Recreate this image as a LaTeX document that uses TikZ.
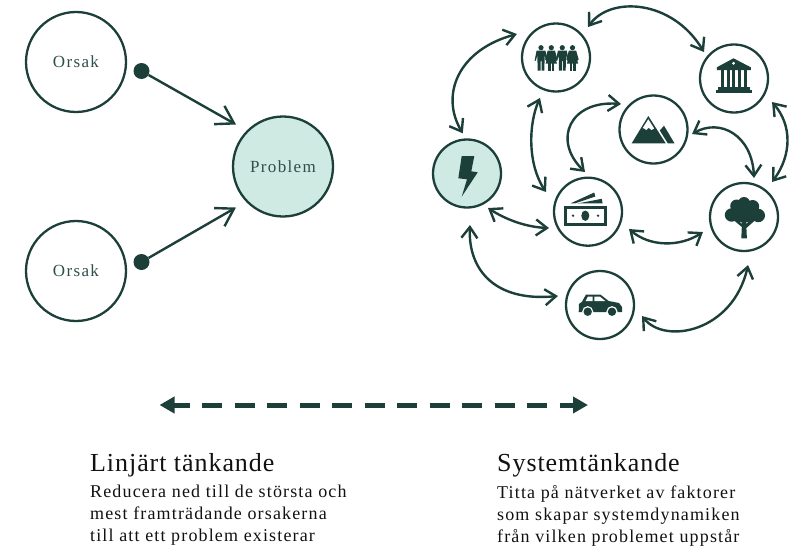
\documentclass[tikz,border=0pt]{standalone}
\usepackage{fontspec}
\setmainfont{Liberation Serif}
\newfontfamily\bodyfont[LetterSpace=6.4]{Liberation Serif}
\newfontfamily\headfont[LetterSpace=3.6]{Liberation Serif}
\newfontfamily\labelfont[LetterSpace=8]{Liberation Serif}
\usetikzlibrary{arrows.meta,calc}
\definecolor{ink}{HTML}{1C3F39}
\definecolor{mint}{HTML}{CFE9E3}
\definecolor{labelink}{HTML}{2F4F4A}
\definecolor{bodyink}{HTML}{111111}
\tikzset{
  bigcirc/.style={circle,draw=ink,line width=2.3pt,minimum size=100pt,inner sep=0pt,fill=white,text=labelink,font={\labelfont\fontsize{17}{20}\selectfont}},
  smallcirc/.style={circle,draw=ink,line width=2.3pt,minimum size=68pt,inner sep=0pt,fill=white},
  hot/.style={fill=mint},
  dotnode/.style={circle,fill=ink,minimum size=16pt,inner sep=0pt},
  link/.style={draw=ink,line width=2.4pt,{Straight Barb[length=11pt,width=16pt]}-{Straight Barb[length=11pt,width=16pt]}},
  bigarrow/.style={draw=ink,line width=2.4pt,-{Straight Barb[length=17pt,width=21pt]}},
  spectrum/.style={draw=ink,line width=5pt,dash pattern=on 20pt off 12.5pt,dash phase=4pt,{Triangle[length=15pt,width=16pt]}-{Triangle[length=15pt,width=16pt]}},
  headtext/.style={anchor=north west,inner sep=0pt,text=bodyink,font={\headfont\fontsize{26}{28}\selectfont}},
  bodytext/.style={anchor=north west,inner sep=0pt,align=left,text=bodyink,font={\bodyfont\fontsize{18}{22}\selectfont}},
}
\newcommand{\linkarrow}[8]{\draw[link] ($(#1)+(#2:#3pt)$) .. controls #4 and #5 .. ($(#6)+(#7:#8pt)$);}
\begin{document}
\begin{tikzpicture}[x=1pt,y=-1pt]
\useasboundingbox (0,0) rectangle (795,549);
% left
\node[bigcirc] (orsakA) at (76,62) {Orsak};
\node[bigcirc] (orsakB) at (76,271) {Orsak};
\node[bigcirc,hot] (problem) at (283,166.5) {Problem};
\node[dotnode] (dotA) at (141.5,71) {};
\node[dotnode] (dotB) at (141.5,262) {};
\draw[bigarrow] (dotA) -- ($(problem)+(138.2:63pt)$);
\draw[bigarrow] (dotB) -- ($(problem)+(221.1:62.4pt)$);
% right
\node[smallcirc] (people) at (556,57.5) {};
\node[smallcirc] (bank) at (734,78.5) {};
\node[smallcirc] (mountain) at (653.5,129.5) {};
\node[smallcirc,hot] (bolt) at (467,173.5) {};
\node[smallcirc] (money) at (588,211.7) {};
\node[smallcirc] (tree) at (744,217) {};
\node[smallcirc] (car) at (600,305) {};
\linkarrow{people}{149}{45.6}{(458,50)}{(440,95)}{bolt}{96}{40.4}
\linkarrow{people}{43.6}{44.2}{(610,-4)}{(672,-1)}{bank}{138.6}{40}
\linkarrow{people}{248.4}{43.5}{(528,125)}{(528,165)}{money}{154.9}{46.4}
\linkarrow{mountain}{141.9}{41.3}{(570,100)}{(552,140)}{money}{94.3}{39.8}
\linkarrow{mountain}{353.3}{38.8}{(720,118)}{(752,135)}{tree}{75.6}{40.3}
\linkarrow{bank}{328.3}{44.7}{(792,125)}{(792,155)}{tree}{51.3}{44.8}
\linkarrow{bolt}{301.3}{40.4}{(505,219)}{(525,227)}{money}{202.7}{42.3}
\linkarrow{money}{337.1}{44.5}{(650,247)}{(680,247)}{tree}{200.1}{43.7}
\linkarrow{bolt}{273.3}{51.6}{(468,270)}{(495,302)}{car}{167.9}{43}
\linkarrow{car}{345.3}{43.4}{(665,345)}{(733,332)}{tree}{274.8}{48.2}
% people icon
\begin{scope}[ink]
\foreach \x in {541,562.3}{
  \fill (\x,47.7) circle[radius=2.6];
  \fill (\x-4.4,50.5) -- (\x+4.4,50.5) -- (\x+6.4,60.5) -- (\x+5.2,60.8) -- (\x+3.6,55) -- (\x+3.4,70.7) -- (\x+.5,70.7) -- (\x+.5,61) -- (\x-.5,61) -- (\x-.5,70.7) -- (\x-3.4,70.7) -- (\x-3.6,55) -- (\x-5.2,60.8) -- (\x-6.4,60.5) -- cycle;
}
\foreach \x in {551.3,572.5}{
  \fill (\x,47.7) circle[radius=2.6];
  \fill (\x-3.6,50.5) -- (\x+3.6,50.5) -- (\x+6.2,59.5) -- (\x+5,60.5) -- (\x+3.4,56) -- (\x+5.6,63.5) -- (\x-5.6,63.5) -- (\x-3.4,56) -- (\x-5,60.5) -- (\x-6.2,59.5) -- cycle;
  \fill (\x-3,63) rectangle (\x-.5,70.7);
  \fill (\x+.5,63) rectangle (\x+3,70.7);
}
% bank icon
\fill[even odd rule] (733.5,58.3) -- (750.8,67.3) -- (750.8,70) -- (716.8,70) -- (716.8,67.3) -- cycle (733.5,63.3) circle[radius=1.8];
\foreach \x in {720.5,726.5,732,737.5,743.5}{\fill (\x,70) rectangle (\x+3.2,87.5);}
\fill (718,87.3) rectangle (750,89.6);
\fill (716,90) rectangle (752,92.8);
% mountain icon
\fill (648.3,116) -- (665.7,143.3) -- (631.7,143.3) -- cycle;
\fill[white] (648.3,119.2) -- (654.2,128.6) -- (651.5,130) -- (648.6,127.8) -- (646.3,130) -- (644,128.4) -- (642.6,128.2) -- cycle;
\fill (664,125.7) -- (674.5,143.3) -- (667.8,143.3) -- (659.8,130.5) -- cycle;
% bolt icon
\fill (461.7,156) -- (474.3,156) -- (471.3,171.3) -- (477.7,172.3) -- (461.7,196.7) -- (467,179.3) -- (458.3,178.3) -- cycle;
% money icon
\fill (564,205.5) rectangle (607,226);
\fill[white] (567,208.8) rectangle (604,223);
\fill (585.3,215.7) ellipse[x radius=4,y radius=5.2];
\fill (573,215.7) circle[radius=1.3];
\fill (598,215.7) circle[radius=1.3];
\fill (570.5,203.4) -- (594.3,192.5) -- (595.3,196.5) -- (575,203.4) -- cycle;
\fill (577.5,203.5) -- (601.8,198.8) -- (602.6,203.4) -- cycle;
% tree icon
\fill (741.3,238.3) -- (741.8,227) -- (733.5,220) -- (735.5,218.5) -- (742,224) -- (741,214) -- (747,214) -- (746,224) -- (754,217.5) -- (756,219.5) -- (746.4,228) -- (746.9,238.3) -- cycle;
\fill (744,203) circle[radius=6];
\fill (736.7,206) circle[radius=6.5];
\fill (752.7,206.5) circle[radius=6.5];
\fill (731.5,215) circle[radius=6.7];
\fill (758.3,215.5) circle[radius=6.7];
\fill (744,212) ellipse[x radius=14,y radius=10.5];
% car icon
\fill (579,304) -- (582,301.7) -- (586,294.5) -- (600.3,294.5) -- (608.7,301) -- (619,303) -- (622,307) -- (622,312) -- (578.7,312) -- cycle;
\fill[white] (585.6,301) -- (588,296.5) -- (592.7,296.5) -- (592.7,301) -- cycle;
\fill[white] (594.3,296.5) -- (599.7,296.5) -- (605.3,301) -- (594.3,301) -- cycle;
\fill[white] (587.7,311.7) circle[radius=5.6];
\fill[white] (612,311.7) circle[radius=5.6];
\fill (587.7,311.7) circle[radius=4.2];
\fill (612,311.7) circle[radius=4.2];
\end{scope}
% spectrum arrow
\coordinate (specL) at (159.5,405);
\coordinate (specR) at (588,405);
\draw[spectrum] (specL) -- (specR);
% texts
\node[headtext] (headL) at (90,453.5) {Linjärt tänkande};
\node[headtext] (headR) at (497,453.5) {Systemtänkande};
\node[bodytext] (bodyL) at (90,485) {Reducera ned till de största och\\mest framträdande orsakerna\\till att ett problem existerar};
\node[bodytext] (bodyR) at (497,485) {Titta på nätverket av faktorer\\som skapar systemdynamiken\\från vilken problemet uppstår};
\end{tikzpicture}
\end{document}
